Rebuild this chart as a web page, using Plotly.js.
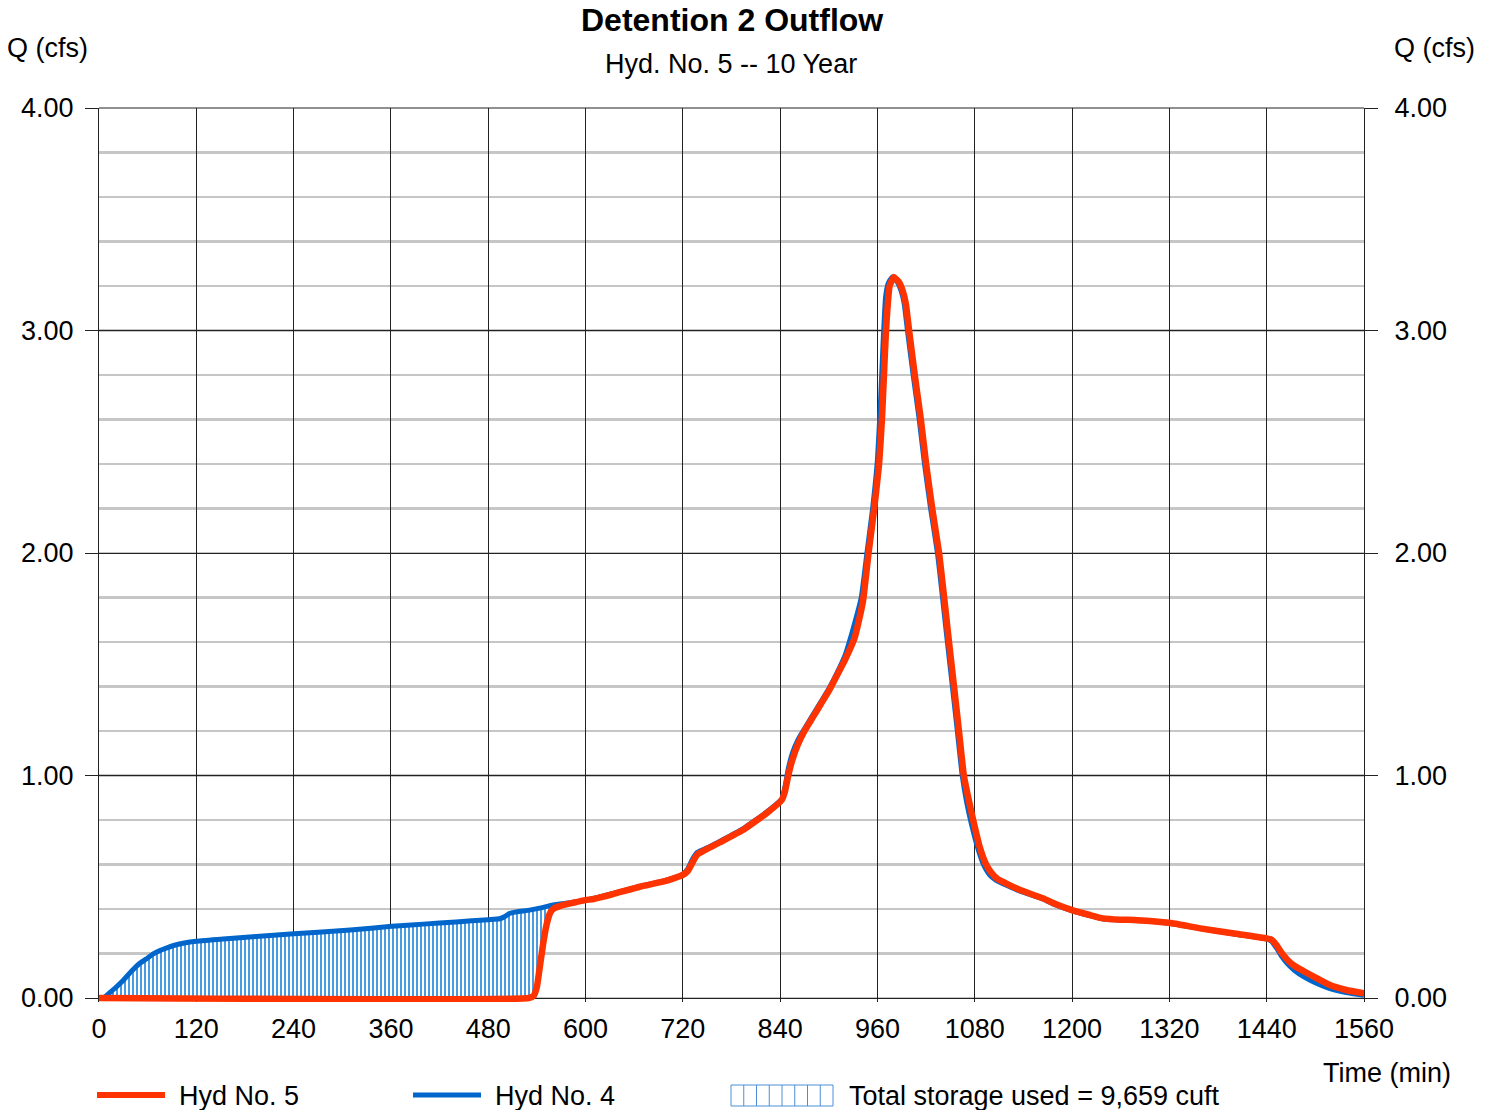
<!DOCTYPE html>
<html>
<head>
<meta charset="utf-8">
<script src="https://cdn.plot.ly/plotly-3.0.1.min.js"></script>
<style>
  html, body { margin: 0; padding: 0; background: #ffffff; }
  #chart { width: 1491px; height: 1110px; }
</style>
</head>
<body>
<div id="chart"></div>
<script>
// Hyd No. 5 – pond outflow (min, cfs)
const timeOut = [0, 530, 536, 540, 544, 548, 552, 556, 560, 570, 585, 600, 610, 634, 667, 700, 720, 726, 732, 738, 750, 766, 794, 823, 842, 846, 850, 855, 862, 870, 880, 890, 900, 910, 920, 932, 942, 949, 956, 962, 965.5, 968, 970.5, 975, 980, 986, 991, 995, 999, 1006, 1013.5, 1020, 1027.5, 1036, 1041, 1047, 1055, 1060.5, 1066.5, 1072, 1078, 1086, 1094, 1100, 1108, 1136, 1164, 1178, 1200, 1222, 1238, 1260, 1280, 1320, 1358, 1400, 1440, 1446, 1452, 1458, 1466, 1474, 1486, 1498, 1518, 1538, 1560];
const flowOut = [0, 0, 0.01, 0.05, 0.15, 0.25, 0.33, 0.38, 0.40, 0.415, 0.428, 0.44, 0.445, 0.467, 0.50, 0.527, 0.553, 0.57, 0.61, 0.645, 0.67, 0.70, 0.755, 0.83, 0.89, 0.93, 1.0, 1.07, 1.14, 1.20, 1.26, 1.32, 1.38, 1.45, 1.52, 1.62, 1.78, 2.0, 2.2, 2.4, 2.6, 2.8, 3.0, 3.2, 3.24, 3.22, 3.18, 3.12, 3.0, 2.8, 2.6, 2.4, 2.2, 2.0, 1.84, 1.64, 1.38, 1.2, 1.0, 0.9, 0.8, 0.68, 0.6, 0.565, 0.535, 0.485, 0.448, 0.425, 0.395, 0.373, 0.358, 0.352, 0.35, 0.338, 0.313, 0.29, 0.268, 0.262, 0.238, 0.205, 0.17, 0.145, 0.12, 0.096, 0.058, 0.036, 0.021];

// Hyd No. 4 – pond inflow (min, cfs)
const timeIn = [0, 6, 12, 20, 30, 40, 50, 60, 67, 75, 82, 92, 105, 120, 153, 194, 236, 275, 310, 361, 400, 440, 480, 494, 500, 506, 515, 531, 545, 560, 585, 610, 634, 667, 700, 720, 726, 732, 738, 750, 766, 794, 823, 842, 846, 850, 855, 862, 870, 880, 890, 900, 910, 920, 930, 940, 947, 954, 960, 964, 967, 970, 973, 978, 984, 989, 993, 997, 1004, 1011.5, 1018, 1025.5, 1034, 1039, 1045, 1053, 1058.5, 1064.5, 1070, 1076, 1084, 1092, 1098, 1106, 1136, 1164, 1178, 1200, 1222, 1238, 1260, 1280, 1320, 1358, 1400, 1440, 1446, 1452, 1458, 1466, 1474, 1486, 1498, 1518, 1538, 1560];
const flowIn = [0, 0, 0.02, 0.045, 0.08, 0.12, 0.155, 0.18, 0.198, 0.213, 0.223, 0.236, 0.247, 0.255, 0.265, 0.276, 0.288, 0.297, 0.306, 0.322, 0.332, 0.342, 0.352, 0.356, 0.365, 0.38, 0.387, 0.395, 0.405, 0.418, 0.43, 0.447, 0.47, 0.502, 0.53, 0.556, 0.58, 0.625, 0.655, 0.675, 0.705, 0.76, 0.835, 0.895, 0.95, 1.03, 1.10, 1.16, 1.21, 1.27, 1.33, 1.39, 1.46, 1.54, 1.66, 1.80, 2.0, 2.2, 2.42, 2.7, 2.95, 3.15, 3.21, 3.24, 3.22, 3.18, 3.12, 3.0, 2.8, 2.6, 2.4, 2.2, 2.0, 1.84, 1.64, 1.38, 1.2, 1.0, 0.88, 0.78, 0.67, 0.59, 0.555, 0.53, 0.48, 0.445, 0.42, 0.392, 0.37, 0.355, 0.35, 0.348, 0.336, 0.312, 0.288, 0.266, 0.255, 0.225, 0.19, 0.152, 0.125, 0.095, 0.072, 0.042, 0.024, 0.012];

// Axis ticks
const xTicks = [0, 120, 240, 360, 480, 600, 720, 840, 960, 1080, 1200, 1320, 1440, 1560];
const xTickLabels = ['0', '120', '240', '360', '480', '600', '720', '840', '960', '1080', '1200', '1320', '1440', '1560'];
const yTicks = [0, 1, 2, 3, 4];
const yTickLabels = ['0.00', '1.00', '2.00', '3.00', '4.00'];

// Text
const chartTitle = 'Detention 2 Outflow';
const chartSubtitle = 'Hyd. No. 5 -- 10 Year';
const yLabel = 'Q (cfs)';
const xLabel = 'Time (min)';
const legendOut = 'Hyd No. 5';
const legendIn = 'Hyd No. 4';
const legendStorage = 'Total storage used = 9,659 cuft';

// Storage window: inflow held back before the outlet starts passing flow
const storageEnd = 560;

const RED = '#ff3300';
const BLUE = '#0066cc';
const GRID = '#222222';
const FONT = 'Liberation Sans, Arial, Helvetica, sans-serif';
const TXT = 27;

// Page geometry (px). The value axis runs a few pixels below zero so the
// thick outflow line sitting on zero is not cut in half by the plot clip.
const W = 1491, H = 1110;
const L = 99, R = 127, T = 108;
const ZERO_Y = 998, TOP_Y = 108;
const PER_UNIT = (ZERO_Y - TOP_Y) / 4;
const EXT = 4;
const B = H - ZERO_Y - EXT;
const PW = W - L - R, PH = H - T - B;
const px = v => (v - L) / PW;
const py = v => (H - B - v) / PH;
const yRange = [-EXT / PER_UNIT, 4];

const stIdxOut = timeOut.map((t, i) => i).filter(i => timeOut[i] <= storageEnd);
const stIdxIn = timeIn.map((t, i) => i).filter(i => timeIn[i] <= storageEnd);

const traces = [
  {
    x: stIdxOut.map(i => timeOut[i]), y: stIdxOut.map(i => flowOut[i]),
    mode: 'lines', line: { width: 0, color: 'rgba(0,0,0,0)' },
    hoverinfo: 'skip', showlegend: false
  },
  {
    x: stIdxIn.map(i => timeIn[i]), y: stIdxIn.map(i => flowIn[i]),
    mode: 'lines', line: { width: 0, color: 'rgba(0,0,0,0)' },
    fill: 'tonexty', fillcolor: '#ffffff',
    fillpattern: { shape: '|', size: 4, solidity: 0.5, fgcolor: '#4a9be0', bgcolor: '#ffffff' },
    hoverinfo: 'skip', showlegend: false
  },
  {
    x: timeIn, y: flowIn, mode: 'lines', name: legendIn,
    line: { color: BLUE, width: 5, shape: 'spline', smoothing: 0.4 },
    showlegend: false
  },
  {
    x: timeOut, y: flowOut, mode: 'lines', name: legendOut, yaxis: 'y2',
    line: { color: RED, width: 6.5, shape: 'spline', smoothing: 0.4 },
    showlegend: false
  }
];

const annotations = [
  { text: '<b>' + chartTitle + '</b>', x: px(732), y: py(20), font: { size: 32 } },
  { text: chartSubtitle, x: px(731), y: py(64), font: { size: TXT } },
  { text: yLabel, x: px(48), y: py(48) },
  { text: yLabel, x: px(1435), y: py(48) },
  { text: xLabel, x: px(1453), y: py(1073), xanchor: 'right' },
  { text: legendOut, x: px(177), y: py(1096), xanchor: 'left' },
  { text: legendIn, x: px(493), y: py(1096), xanchor: 'left' },
  { text: legendStorage, x: px(847), y: py(1096), xanchor: 'left' }
].map(a => Object.assign({
  xref: 'paper', yref: 'paper', showarrow: false,
  xanchor: 'center', yanchor: 'middle'
}, a, { font: Object.assign({ family: FONT, color: '#000000', size: TXT }, a.font || {}) }));

const shapes = [
  // frame edge along the top of the plot
  { type: 'line', x0: 0, x1: 1, y0: py(TOP_Y), y1: py(TOP_Y), line: { color: GRID, width: 1 } },
  // legend keys
  { type: 'line', x0: px(97), x1: px(165), y0: py(1095), y1: py(1095), line: { color: RED, width: 6 } },
  { type: 'line', x0: px(413), x1: px(481), y0: py(1095), y1: py(1095), line: { color: BLUE, width: 5 } },
  { type: 'rect', x0: px(731), x1: px(833), y0: py(1106), y1: py(1085), line: { color: '#4a8fd6', width: 1 }, fillcolor: '#ffffff' }
];
for (let k = 1; k < 8; k++) {
  const xx = 731 + k * (102 / 8);
  shapes.push({ type: 'line', x0: px(xx), x1: px(xx), y0: py(1106), y1: py(1085), line: { color: '#4a8fd6', width: 1 } });
}
shapes.forEach(s => { s.xref = 'paper'; s.yref = 'paper'; s.layer = 'above'; });

const yCommon = {
  range: yRange, tickvals: yTicks, ticktext: yTickLabels,
  ticks: 'outside', ticklen: 13, tickwidth: 1, tickcolor: GRID,
  showline: true, linecolor: GRID, linewidth: 1,
  fixedrange: true,
  tickfont: { family: FONT, size: TXT, color: '#000000' }
};

const layout = {
  width: W, height: H,
  margin: { l: L, r: R, t: T, b: B, pad: 0 },
  paper_bgcolor: '#ffffff', plot_bgcolor: '#ffffff',
  font: { family: FONT, size: TXT, color: '#000000' },
  showlegend: false,
  xaxis: {
    range: [0, 1560], tickvals: xTicks, ticktext: xTickLabels,
    ticks: '', showgrid: true, gridcolor: GRID, gridwidth: 1,
    showline: false, zeroline: false, fixedrange: true,
    ticklabelstandoff: 8,
    tickfont: { family: FONT, size: TXT, color: '#000000' }
  },
  yaxis: Object.assign({}, yCommon, {
    showgrid: true, gridcolor: GRID, gridwidth: 1,
    zeroline: true, zerolinecolor: GRID, zerolinewidth: 1,
    ticklabelstandoff: 6,
    minor: { dtick: 0.2, showgrid: true, gridcolor: '#c6c6c6', gridwidth: 2.5, ticks: '' }
  }),
  yaxis2: Object.assign({}, yCommon, {
    overlaying: 'y', side: 'right', showgrid: false, zeroline: false,
    ticklabelstandoff: 11
  }),
  annotations: annotations,
  shapes: shapes
};

Plotly.newPlot('chart', traces, layout, { staticPlot: true, displayModeBar: false });
</script>
</body>
</html>
